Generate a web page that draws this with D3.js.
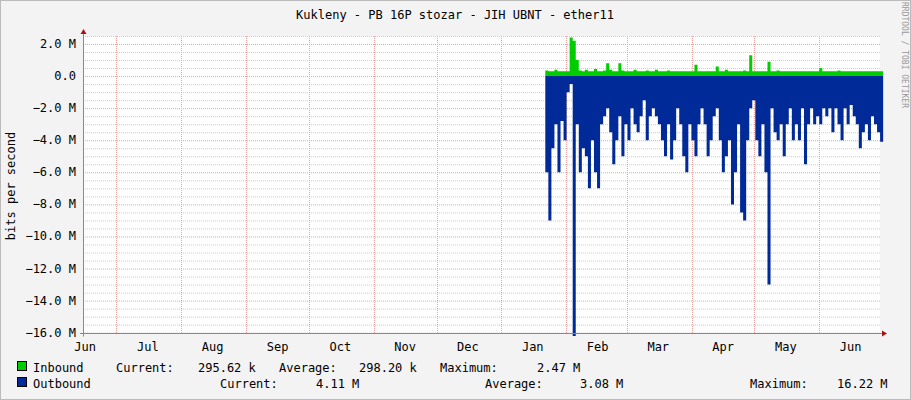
<!DOCTYPE html>
<html><head><meta charset="utf-8">
<script src="https://cdn.jsdelivr.net/npm/d3@7"></script>
<style>body{margin:0;background:#f3f3f3}text{font-family:"DejaVu Sans Mono",monospace;font-size:12px;fill:#000}</style>
</head><body><div id="chart"></div>
<script>
const width = 911, height = 400
const margin = {top:36, right:31, bottom:67, left:83}

// values in Mbit/s, one sample every ~1.45 days starting 2024-01-22
const outbound = [6,9,4.5,3,6,2.8,4,1,0.5,16.2,3,6,4.5,5,7,4,6,7,3,2.5,2,3.5,5.5,4,2.5,5,3,4,2,3,3.5,2.5,1.5,4,2.5,2,2.5,3,4,5,3,5.2,4,2,3,5,6,3,4,5,3,2,3,5,4,2.5,2,4,6,5,4,8,6,3,8.5,9,4,2,1.5,4,5,3,6,13,2,3.5,4,3,5,3,2,4,3,4,2,5.5,3,2,3,2.5,3,2,2.5,2,3.5,2,3,4,2,3,1.8,2.5,3,4.5,3.5,3,4,2.5,3,3.5,4.1]
const inbound = [0.35,0.3,0.3,0.4,0.3,0.3,0.3,0.3,2.4,2.2,1.0,0.35,0.3,0.4,0.3,0.3,0.45,0.3,0.3,0.35,0.8,0.4,0.3,0.3,0.8,0.35,0.3,0.3,0.3,0.4,0.3,0.3,0.3,0.35,0.3,0.3,0.4,0.3,0.3,0.3,0.35,0.3,0.3,0.3,0.3,0.3,0.3,0.3,0.3,0.7,0.3,0.3,0.3,0.3,0.3,0.3,0.6,0.3,0.3,0.4,0.3,0.3,0.3,0.3,0.3,0.35,0.3,1.3,0.3,0.3,0.3,0.3,0.3,0.9,0.3,0.3,0.35,0.3,0.3,0.3,0.3,0.3,0.3,0.3,0.3,0.3,0.3,0.3,0.3,0.3,0.5,0.3,0.3,0.3,0.3,0.3,0.35,0.3,0.3,0.3,0.3,0.3,0.3,0.3,0.3,0.3,0.3,0.3,0.3,0.3,0.3]
const yTicks = [2,0,-2,-4,-6,-8,-10,-12,-14,-16]
const monthLabels = ["Jun","Jul","Aug","Sep","Oct","Nov","Dec","Jan","Feb","Mar","Apr","May","Jun"]

const start = new Date(2024,0,22), stepMs = 1.455*864e5
const t = i => new Date(+start + i*stepMs)

const x = d3.scaleTime().domain([new Date(2023,5,15), new Date(2024,5,30)]).range([margin.left, width-margin.right])
const y = d3.scaleLinear().domain([-16.02, 2.5]).range([height-margin.bottom, margin.top])

const svg = d3.select("#chart").append("svg").attr("width", width).attr("height", height)
svg.append("rect").attr("width", width).attr("height", height).attr("fill", "#f3f3f3")
svg.append("rect").attr("x", margin.left).attr("y", margin.top)
  .attr("width", width-margin.left-margin.right).attr("height", height-margin.top-margin.bottom).attr("fill", "#fff")

// minor grid
const minor = d3.range(-16, 2.6, 0.5).filter(v => v % 2 !== 0)
svg.selectAll("line.minor").data(minor).join("line")
  .attr("x1", margin.left).attr("x2", width-margin.right).attr("y1", d => y(d)+.5).attr("y2", d => y(d)+.5)
  .attr("stroke", "#ccc").attr("stroke-dasharray", "1,1")
// major grid
svg.selectAll("line.major").data(yTicks).join("line")
  .attr("x1", margin.left).attr("x2", width-margin.right).attr("y1", d => y(d)+.5).attr("y2", d => y(d)+.5)
  .attr("stroke", "#f2a0a0").attr("stroke-dasharray", "1,1")
const months = d3.timeMonth.range(new Date(2023,6,1), new Date(2024,5,30))
svg.selectAll("line.vm").data(months).join("line")
  .attr("x1", d => Math.round(x(d))+.5).attr("x2", d => Math.round(x(d))+.5)
  .attr("y1", margin.top).attr("y2", height-margin.bottom)
  .attr("stroke", "#f2a0a0").attr("stroke-dasharray", "1,1")

// areas (extra copy of the last value closes the final step)
const areaOut = d3.area().curve(d3.curveStepAfter).x((d,i) => x(t(i))).y0(y(0)).y1(d => y(-d))
const areaIn = d3.area().curve(d3.curveStepAfter).x((d,i) => x(t(i))).y0(y(0)).y1(d => y(d))
svg.append("path").datum(inbound.concat(inbound.slice(-1))).attr("d", areaIn).attr("fill", "#00cc00")
svg.append("path").datum(outbound.concat(outbound.slice(-1))).attr("d", areaOut).attr("fill", "#002a97")

// axes
const y0 = height-margin.bottom+.5
svg.append("line").attr("x1", margin.left-3).attr("x2", width-margin.right+4).attr("y1", y0).attr("y2", y0).attr("stroke", "#888")
svg.append("line").attr("x1", margin.left+.5).attr("x2", margin.left+.5).attr("y1", margin.top-6).attr("y2", y0+3).attr("stroke", "#888")
svg.append("path").attr("d", `M${width-margin.right+2},${y0-3}L${width-margin.right+7},${y0}L${width-margin.right+2},${y0+3}Z`).attr("fill", "#a11")
svg.append("path").attr("d", `M${margin.left-2.5},${margin.top-2}L${margin.left+.5},${margin.top-7}L${margin.left+3.5},${margin.top-2}Z`).attr("fill", "#a11")

svg.selectAll("text.yl").data(yTicks).join("text")
  .attr("x", 76).attr("y", d => y(d)+4).attr("text-anchor", "end")
  .text(d => d === 0 ? "0.0" : d3.format(".1f")(d) + " M")
const mids = d3.timeMonth.range(new Date(2023,5,1), new Date(2024,6,1)).map(d => new Date(+d + 15*864e5))
svg.selectAll("text.xl").data(mids).join("text")
  .attr("x", d => x(d)).attr("y", 351).attr("text-anchor", "middle")
  .text((d,i) => monthLabels[i])

svg.append("text").attr("x", 455).attr("y", 19).attr("text-anchor", "middle").text("Kukleny - PB 16P stozar - JIH UBNT - ether11")
svg.append("text").attr("transform", "translate(15,186) rotate(-90)").attr("text-anchor", "middle").text("bits per second")
svg.append("text").attr("transform", "translate(902,55) rotate(90)").attr("text-anchor", "middle")
  .style("font-size", "8px").style("fill", "#999").text("RRDTOOL / TOBI OETIKER")

// legend
const legend = [
  {y:372, color:"#00cc00", items:[[33,"Inbound"],[116,"Current:"],[198,"295.62 k"],[279,"Average:"],[359,"298.20 k"],[440,"Maximum:"],[537,"2.47 M"]]},
  {y:388, color:"#002a97", items:[[33,"Outbound"],[220,"Current:"],[316,"4.11 M"],[485,"Average:"],[580,"3.08 M"],[750,"Maximum:"],[837,"16.22 M"]]}
]
legend.forEach(r => {
  svg.append("rect").attr("x", 17.5).attr("y", r.y-10.5).attr("width", 9).attr("height", 9).attr("fill", r.color).attr("stroke", "#000")
  r.items.forEach(([lx, s]) => svg.append("text").attr("x", lx).attr("y", r.y).text(s))
})
svg.append("rect").attr("x", .5).attr("y", .5).attr("width", width-1).attr("height", height-1)
  .attr("fill", "none").attr("stroke", "#bbb")
</script></body></html>
